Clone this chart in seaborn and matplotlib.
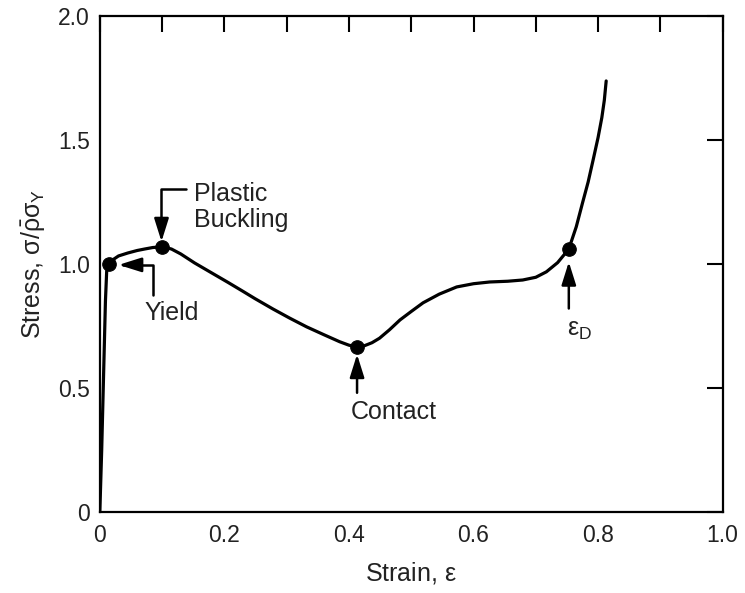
import matplotlib
matplotlib.use("Agg")
import matplotlib.pyplot as plt
import seaborn as sns

# curve
strain = [0.0, 0.003, 0.006, 0.009, 0.011, 0.015, 0.02, 0.03, 0.045, 0.06,
          0.072, 0.085, 0.10, 0.115, 0.13, 0.152, 0.18, 0.206, 0.23, 0.249,
          0.278, 0.305, 0.332, 0.36, 0.385, 0.40, 0.413, 0.425, 0.437, 0.449,
          0.465, 0.482, 0.50, 0.519, 0.545, 0.573, 0.60, 0.626, 0.655, 0.679,
          0.70, 0.717, 0.735, 0.753, 0.765, 0.775, 0.784, 0.792, 0.80, 0.806,
          0.810, 0.813]
stress = [0.0, 0.25, 0.55, 0.85, 0.97, 1.0, 1.015, 1.032, 1.044, 1.054,
          1.06, 1.066, 1.069, 1.06, 1.04, 1.004, 0.963, 0.925, 0.889, 0.860,
          0.818, 0.781, 0.746, 0.714, 0.686, 0.672, 0.665, 0.670, 0.682, 0.70,
          0.734, 0.774, 0.808, 0.843, 0.878, 0.907, 0.920, 0.927, 0.930, 0.935,
          0.946, 0.968, 1.005, 1.06, 1.15, 1.246, 1.33, 1.419, 1.51, 1.59,
          1.66, 1.738]

# marked points
key_strain = [0.015, 0.10, 0.413, 0.753]
key_stress = [1.0, 1.069, 0.665, 1.06]

x_ticks = [0, 0.2, 0.4, 0.6, 0.8, 1.0]
x_tick_labels = ["0", "0.2", "0.4", "0.6", "0.8", "1.0"]
y_ticks = [0, 0.5, 1.0, 1.5, 2.0]
y_tick_labels = ["0", "0.5", "1.0", "1.5", "2.0"]

sns.set_style("white")
plt.rcParams["font.family"] = ["Liberation Sans", "DejaVu Sans"]
plt.rcParams["mathtext.fontset"] = "custom"
plt.rcParams["mathtext.rm"] = "Liberation Sans"
plt.rcParams["mathtext.it"] = "Liberation Sans"

fig = plt.figure(figsize=(7.45, 5.93), dpi=100)
ax = fig.add_axes([0.134, 0.137, 0.836, 0.836])

sns.lineplot(x=strain, y=stress, sort=False, estimator=None, color="black",
             lw=2.3, ax=ax, solid_joinstyle="round")
sns.scatterplot(x=key_strain, y=key_stress, color="black", s=95,
                edgecolor="black", zorder=5, ax=ax)

ax.set_xlim(0, 1.0)
ax.set_ylim(0, 2.0)
ax.set_xticks(x_ticks)
ax.set_xticklabels(x_tick_labels)
ax.set_xticks([0.1, 0.3, 0.5, 0.7, 0.9], minor=True)
ax.set_yticks(y_ticks)
ax.set_yticklabels(y_tick_labels)
ax.tick_params(which="both", direction="in", top=True, right=True,
               length=11.5, width=1.5, color="black", labelsize=16.5,
               labelcolor="#222222")
ax.tick_params(axis="x", pad=9)
ax.tick_params(axis="y", pad=7)
for s in ax.spines.values():
    s.set_linewidth(1.6)
    s.set_color("black")

ax.set_xlabel(r"Strain, $\varepsilon$", fontsize=18, color="#222222", labelpad=9)
ax.set_ylabel(r"Stress, $\sigma/\bar{\rho}\sigma_Y$", fontsize=18,
              color="#222222", labelpad=8)

arrow = dict(arrowstyle="-|>,head_length=0.7,head_width=0.22",
             mutation_scale=20, color="black", lw=1.8, shrinkA=0, shrinkB=0)

# plastic buckling (elbow)
ax.annotate("", xy=(0.099, 1.09), xytext=(0.139, 1.302),
            arrowprops=dict(arrow, connectionstyle="angle,angleA=0,angleB=90,rad=0"))
ax.text(0.152, 1.23, "Plastic\nBuckling", fontsize=18, ha="left", va="center",
        color="#222222", linespacing=1.1)

# yield (elbow)
ax.annotate("", xy=(0.030, 0.996), xytext=(0.085, 0.875),
            arrowprops=dict(arrow, connectionstyle="angle,angleA=90,angleB=0,rad=0"))
ax.text(0.072, 0.802, "Yield", fontsize=18, ha="left", va="center",
        color="#222222")

# contact
ax.annotate("", xy=(0.413, 0.635), xytext=(0.413, 0.48), arrowprops=arrow)
ax.text(0.472, 0.403, "Contact", fontsize=18, ha="center", va="center",
        color="#222222")

# densification strain
ax.annotate("", xy=(0.753, 1.008), xytext=(0.753, 0.82), arrowprops=arrow)
ax.text(0.77, 0.735, r"$\varepsilon_D$", fontsize=18, ha="center", va="center",
        color="#222222")

fig.savefig("out.png", dpi=100)
